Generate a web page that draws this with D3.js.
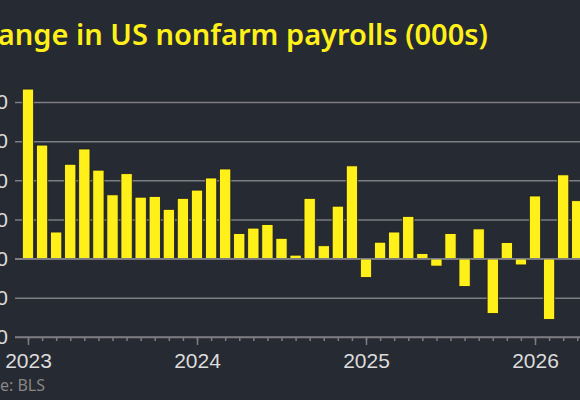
<!DOCTYPE html>
<html>
<head>
<meta charset="utf-8">
<script src="https://cdn.jsdelivr.net/npm/d3@7"></script>
<style>
  html, body { margin: 0; padding: 0; background: #262a33; }
  svg { display: block; font-family: "Noto Sans", "Open Sans", sans-serif; }
</style>
</head>
<body>
<div id="chart"></div>
<script>
(function () {

    // monthly change in nonfarm payrolls, thousands, Jan 2023 .. Apr 2026
    var months = [
        "2023-01", "2023-02", "2023-03", "2023-04", "2023-05", "2023-06",
        "2023-07", "2023-08", "2023-09", "2023-10", "2023-11", "2023-12",
        "2024-01", "2024-02", "2024-03", "2024-04", "2024-05", "2024-06",
        "2024-07", "2024-08", "2024-09", "2024-10", "2024-11", "2024-12",
        "2025-01", "2025-02", "2025-03", "2025-04", "2025-05", "2025-06",
        "2025-07", "2025-08", "2025-09", "2025-10", "2025-11", "2025-12",
        "2026-01", "2026-02", "2026-03", "2026-04"
    ];
    var payrolls = [
        433, 290, 68, 241, 280, 226, 163, 217, 157, 159, 126, 154,
        175, 206, 229, 64, 78, 87, 52, 9, 154, 33, 134, 237,
        -48, 42, 68, 108, 13, -19, 64, -71, 76, -140, 41, -16,
        160, -155, 214, 148
    ];
    var yTicks    = [-200, -100, 0, 100, 200, 300, 400];
    var yearTicks = [0, 12, 24, 36];           // month index of each January
    var yearLabels = ["2023", "2024", "2025", "2026"];

    var TITLE  = "Change in US nonfarm payrolls (000s)";
    var SOURCE = "Source: BLS";

    var W = 580, H = 400;
    var BG = "#262a33", YELLOW = "#fff01a", GRID = "#7d7d82", TEXT = "#dcdcdc";

    var svg = d3.select("#chart").append("svg")
        .attr("width", W).attr("height", H);

    svg.append("rect").attr("width", W).attr("height", H).attr("fill", BG);

    /* scales */
    var x = d3.scaleLinear().domain([0, 36]).range([28, 535]);
    var y = d3.scaleLinear().domain([-200, 400]).range([337, 102]);
    var step = x(1) - x(0);
    var barW = step * 0.8;

    // grid + y labels
    var gy = svg.append("g")
        .attr("transform", "translate(15,0)")
        .call(d3.axisLeft(y)
            .tickValues(yTicks)
            .tickSize(-(W - 15))
            .tickPadding(7)
            .tickFormat(d3.format("d")));
    gy.select(".domain").remove();
    gy.selectAll(".tick line")
        .attr("stroke", GRID).attr("stroke-width", 1.5);
    gy.selectAll(".tick text")
        .attr("fill", TEXT).style("font-size", "21px")
        .attr("font-family", null);

    /* bars */
    svg.append("g").selectAll("rect")
        .data(payrolls)
        .enter().append("rect")
        .attr("x", function (d, i) { return x(i) - barW / 2; })
        .attr("width", barW)
        .attr("y", function (d) { return y(Math.max(0, d)); })
        .attr("height", function (d) { return Math.abs(y(d) - y(0)); })
        .attr("fill", YELLOW)
        .attr("stroke", "#1b1e24")
        .attr("stroke-width", 0.8);

    // zero line on top of bars
    svg.append("line")
        .attr("x1", 15).attr("x2", W)
        .attr("y1", y(0)).attr("y2", y(0))
        .attr("stroke", GRID).attr("stroke-width", 1.5);

    /* x axis: minor monthly ticks, major yearly ticks */
    var axisY = y(-200);
    var gMinor = svg.append("g")
        .attr("transform", "translate(0," + axisY + ")")
        .call(d3.axisBottom(x)
            .tickValues(d3.range(0, months.length + 1))
            .tickSize(4)
            .tickFormat(""));
    gMinor.select(".domain").remove();
    gMinor.selectAll(".tick line").attr("stroke", GRID).attr("stroke-width", 1.5);

    var gMajor = svg.append("g")
        .attr("transform", "translate(0," + axisY + ")")
        .call(d3.axisBottom(x)
            .tickValues(yearTicks)
            .tickSize(8)
            .tickPadding(8)
            .tickFormat(function (v, i) { return yearLabels[i]; }));
    gMajor.select(".domain").remove();
    gMajor.selectAll(".tick line").attr("stroke", GRID).attr("stroke-width", 1.5);
    gMajor.selectAll(".tick text")
        .attr("fill", TEXT).style("font-size", "21px")
        .attr("font-family", null);

    svg.append("line")
        .attr("x1", 15).attr("x2", W)
        .attr("y1", axisY).attr("y2", axisY)
        .attr("stroke", GRID).attr("stroke-width", 1.5);

    /* title: the reference is cropped on the left, so it is anchored at its right end */
    svg.append("text")
        .attr("x", 488).attr("y", 45)
        .attr("text-anchor", "end")
        .attr("fill", YELLOW)
        .style("font-size", "29px")
        .style("font-weight", 600)
        .text(TITLE);

    /* source, cropped the same way: "Sourc" falls off the left edge */
    var probe = svg.append("text").style("font-size", "16px").text("Sourc");
    var cut = probe.node().getComputedTextLength();
    probe.remove();
    svg.append("text")
        .attr("x", -cut).attr("y", 391)
        .attr("fill", "#8a8682")
        .style("font-size", "16px")
        .text(SOURCE);

}());
</script>
</body>
</html>
